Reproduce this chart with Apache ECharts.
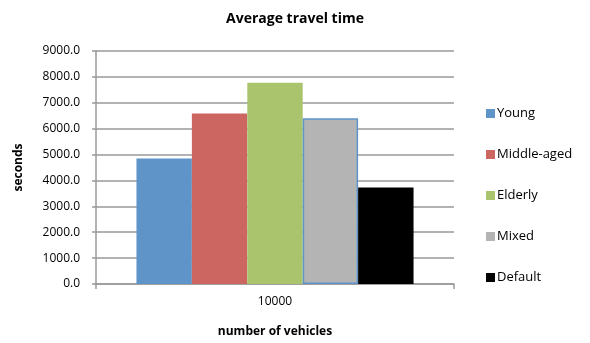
<!DOCTYPE html>
<html>
<head>
<meta charset="utf-8">
<script src="https://cdn.jsdelivr.net/npm/echarts@6/dist/echarts.min.js"></script>
<style>
	html, body { margin: 0; padding: 0; background: #fff; }
	#chart { width: 590px; height: 343px; }
</style>
</head>
<body>
<div id="chart"></div>
<script>
	var categories = ['10000'];
	var seriesNames = ['Young', 'Middle-aged', 'Elderly', 'Mixed', 'Default'];
	var seriesValues = [[4850], [6590], [7770], [6400], [3730]];
	var seriesColors = ['#5f94c9', '#cc6660', '#aac46d', '#b4b4b4', '#000000'];

	var font = 'Open Sans';

	var series = seriesNames.map(function(name, i) {
		var s = {
			name: name,
			type: 'bar',
			barGap: '0%',
			barCategoryGap: '22.6%',
			itemStyle: { color: seriesColors[i] },
			data: seriesValues[i]
		};
		// the grey bar is outlined in blue in the original
		if (name === 'Mixed') {
			s.itemStyle.borderColor = '#5f94c9';
			s.itemStyle.borderWidth = 1.5;
		}
		return s;
	});

	var option = {
		animation: false,
		title: {
			text: 'Average travel time',
			left: 'center',
			top: 7,
			textStyle: { fontFamily: font, fontSize: 14, fontWeight: 'bold', color: '#000' }
		},
		legend: {
			orient: 'vertical',
			left: 481,
			top: 102,
			itemWidth: 9,
			itemHeight: 9,
			itemGap: 28,
			icon: 'rect',
			itemStyle: { borderWidth: 0 },
			textStyle: { fontFamily: font, fontSize: 13, color: '#000', padding: [0, 0, 0, -3] },
			data: seriesNames
		},
		grid: { left: 96, right: 136, top: 51, bottom: 58 },
		xAxis: {
			type: 'category',
			data: categories,
			name: 'number of vehicles',
			nameLocation: 'middle',
			nameGap: 42,
			nameTextStyle: { fontFamily: font, fontSize: 12, fontWeight: 'bold', color: '#000' },
			axisLine: { lineStyle: { color: '#999', width: 1.5 } },
			axisTick: { show: true, length: 5, lineStyle: { color: '#999', width: 1.5 } },
			axisLabel: { fontFamily: font, fontSize: 12, color: '#000', margin: 12 }
		},
		yAxis: {
			type: 'value',
			min: 0,
			max: 9000,
			interval: 1000,
			name: 'seconds',
			nameLocation: 'middle',
			nameGap: 71,
			nameRotate: 90,
			nameTextStyle: { fontFamily: font, fontSize: 12, fontWeight: 'bold', color: '#000' },
			axisLine: { show: true, lineStyle: { color: '#999', width: 1.5 } },
			axisTick: { show: true, length: 4, lineStyle: { color: '#999', width: 1.5 } },
			splitLine: { lineStyle: { color: '#999', width: 1.5 } },
			axisLabel: {
				fontFamily: font, fontSize: 12, color: '#000', margin: 16,
				formatter: function(v) { return v.toFixed(1); }
			}
		},
		series: series
	};

	var myChart = echarts.init(document.getElementById('chart'));
	myChart.setOption(option);
</script>
</body>
</html>
